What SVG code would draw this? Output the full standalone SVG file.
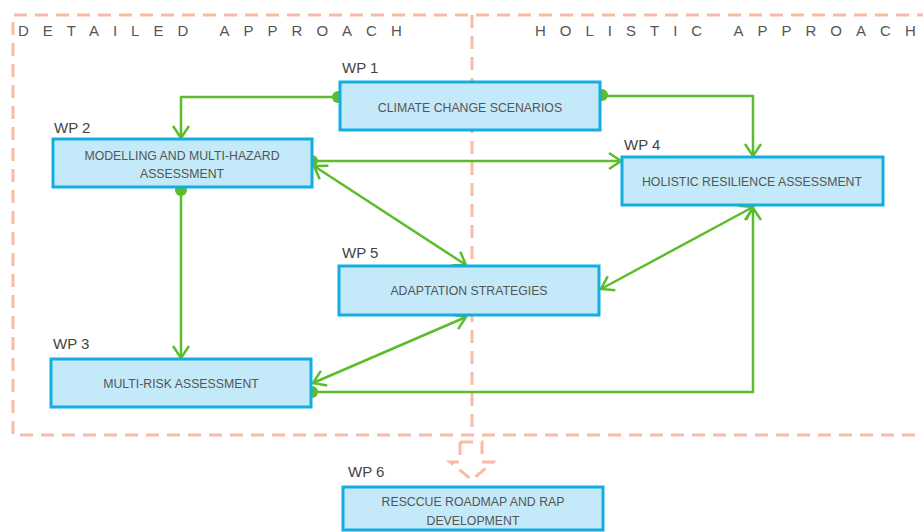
<svg xmlns="http://www.w3.org/2000/svg" width="923" height="532" viewBox="0 0 923 532">
<style>
.bg{fill:#ffffff}
.zone{fill:none;stroke:#f9bba3;stroke-width:3;stroke-dasharray:13 8}
.head{font-family:"Liberation Sans",Arial,sans-serif;font-size:15px;fill:#555;letter-spacing:14px}
.last{letter-spacing:0}
.box{fill:#c4e9f8;stroke:#12ade2;stroke-width:3}
.wp{font-family:"Liberation Sans",Arial,sans-serif;font-size:15px;fill:#444}
.txt{font-family:"Liberation Sans",Arial,sans-serif;font-size:12.3px;fill:#555;text-anchor:middle}
.con{fill:none;stroke:#5bbd2b;stroke-width:2.5}
.dot{fill:#5bbd2b}
</style>
<defs>
<marker id="arr" viewBox="-14 -10 16 20" refX="0" refY="0" markerWidth="16" markerHeight="20" markerUnits="userSpaceOnUse" orient="auto-start-reverse">
<path d="M-12,-8 L0,0 L-12,8" fill="none" stroke="#5bbd2b" stroke-width="2.5"/>
</marker>
</defs>
<rect class="bg" x="0" y="0" width="923" height="532"/>
<g id="zones">
<path class="zone" d="M930,15 H13 V435 H930"/>
<path class="zone" d="M472,15 V435"/>
<path class="zone" d="M460,442 H482 V462 H493 L472,480 L450,462 H460 Z" stroke-dasharray="8 5"/>
<text class="head" x="18" y="36">DETAILED APPROAC<tspan class="last">H</tspan></text>
<text class="head" x="535" y="36">HOLISTIC APPROAC<tspan class="last">H</tspan></text>
</g>
<g id="connectors">
<path class="con" d="M338,97 H181 V138" marker-end="url(#arr)"/>
<path class="con" d="M602,96 H753 V156" marker-end="url(#arr)"/>
<path class="con" d="M312,161 H621" marker-end="url(#arr)"/>
<path class="con" d="M314,166 L466,265" marker-start="url(#arr)" marker-end="url(#arr)"/>
<path class="con" d="M753,207 L601,289" marker-start="url(#arr)" marker-end="url(#arr)"/>
<path class="con" d="M466,317 L313,383" marker-start="url(#arr)" marker-end="url(#arr)"/>
<path class="con" d="M312,392 H753 V208" marker-end="url(#arr)"/>
<path class="con" d="M181,190 V358" marker-end="url(#arr)"/>
<circle class="dot" cx="338" cy="97" r="6"/>
<circle class="dot" cx="602" cy="95" r="6"/>
<circle class="dot" cx="312" cy="161" r="6"/>
<circle class="dot" cx="312" cy="392" r="6"/>
<circle class="dot" cx="181" cy="190" r="6"/>
</g>
<g id="wp1">
<text class="wp" x="342" y="73">WP 1</text>
<rect class="box" x="340" y="82" width="260" height="48"/>
<text class="txt" x="470" y="112">CLIMATE CHANGE SCENARIOS</text>
</g>
<g id="wp2">
<text class="wp" x="54" y="133">WP 2</text>
<rect class="box" x="53" y="139" width="259" height="48"/>
<text class="txt" x="182" y="160">MODELLING AND MULTI-HAZARD</text>
<text class="txt" x="182" y="178">ASSESSMENT</text>
</g>
<g id="wp4">
<text class="wp" x="624" y="150">WP 4</text>
<rect class="box" x="622" y="157" width="261" height="48"/>
<text class="txt" x="752" y="186">HOLISTIC RESILIENCE ASSESSMENT</text>
</g>
<g id="wp5">
<text class="wp" x="342" y="258">WP 5</text>
<rect class="box" x="339" y="266" width="260" height="49"/>
<text class="txt" x="469" y="295">ADAPTATION STRATEGIES</text>
</g>
<g id="wp3">
<text class="wp" x="53" y="349">WP 3</text>
<rect class="box" x="51" y="359" width="260" height="48"/>
<text class="txt" x="181" y="388">MULTI-RISK ASSESSMENT</text>
</g>
<g id="wp6">
<text class="wp" x="348" y="477">WP 6</text>
<rect class="box" x="343" y="487" width="260" height="43"/>
<text class="txt" x="473" y="506">RESCCUE ROADMAP AND RAP</text>
<text class="txt" x="473" y="525">DEVELOPMENT</text>
</g>
</svg>
